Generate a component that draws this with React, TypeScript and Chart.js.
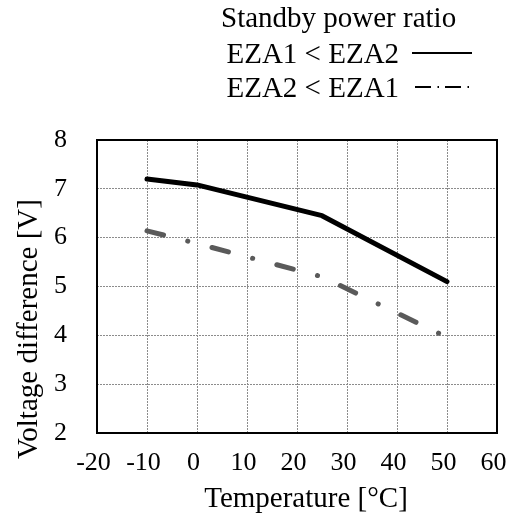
import React, { useEffect, useRef } from "react";
import { Chart, registerables } from "chart.js";

Chart.register(...registerables);

// ---- data ----
const temperatures = [-10, 0, 25, 50];
const eza1LessEza2 = [7.2, 7.08, 6.45, 5.1];
const eza2LessEza1 = [6.14, 5.88, 5.2, 3.96];
const seriesLabels = ["EZA1 < EZA2", "EZA2 < EZA1"];
const legendTitle = "Standby power ratio";
const xTitle = "Temperature [°C]";
const yTitle = "Voltage difference [V]";
const xRange = [-20, 60];
const yRange = [2, 8];

const FONT = '"Liberation Serif", "Times New Roman", serif';

const decorPlugin = {
  id: "decor",
  afterDatasetsDraw(chart: any) {
    const { ctx, chartArea: a } = chart;
    ctx.save();
    // plot frame
    ctx.setLineDash([]);
    ctx.strokeStyle = "#000";
    ctx.lineWidth = 2;
    ctx.strokeRect(a.left, a.top, a.right - a.left, a.bottom - a.top);

    // axis titles
    ctx.fillStyle = "#000";
    ctx.font = `29px ${FONT}`;
    ctx.textAlign = "center";
    ctx.textBaseline = "alphabetic";
    ctx.fillText(xTitle, (a.left + a.right) / 2 + 9, 507);
    ctx.save();
    ctx.translate(37, (a.top + a.bottom) / 2 + 42.5);
    ctx.rotate(-Math.PI / 2);
    ctx.fillText(yTitle, 0, 0);
    ctx.restore();

    // legend
    ctx.textAlign = "left";
    ctx.fillText(legendTitle, 221, 26.5);
    ctx.fillText(seriesLabels[0], 226.5, 62.5);
    ctx.fillText(seriesLabels[1], 226.5, 96.5);
    ctx.lineWidth = 2;
    ctx.strokeStyle = "#000";
    ctx.lineCap = "butt";
    ctx.beginPath();
    ctx.moveTo(412, 53);
    ctx.lineTo(472, 53);
    ctx.stroke();
    ctx.setLineDash([16, 6.5, 1.5, 6]);
    ctx.beginPath();
    ctx.moveTo(415, 87);
    ctx.lineTo(469, 87);
    ctx.stroke();
    ctx.restore();
  },
};

export default function App() {
  const ref = useRef<HTMLCanvasElement | null>(null);

  useEffect(() => {
    document.body.style.margin = "0";
    const canvas = ref.current;
    if (!canvas) return;
    const gridCommon = {
      color: "#8c8c8c",
      lineWidth: 1,
      drawTicks: false,
    };
    const chart = new Chart(canvas, {
      type: "line",
      data: {
        datasets: [
          {
            label: seriesLabels[0],
            data: temperatures.map((t, i) => ({ x: t, y: eza1LessEza2[i] })),
            borderColor: "#000000",
            borderWidth: 5,
            borderCapStyle: "round",
            borderJoinStyle: "round",
            pointRadius: 0,
            tension: 0,
            fill: false,
          },
          {
            label: seriesLabels[1],
            data: temperatures.map((t, i) => ({ x: t, y: eza2LessEza1[i] })),
            borderColor: "#5a5a5a",
            borderWidth: 5,
            borderCapStyle: "round",
            borderJoinStyle: "round",
            borderDash: [17, 25, 0.1, 25],
            pointRadius: 0,
            tension: 0,
            fill: false,
          },
        ],
      },
      options: {
        animation: false,
        responsive: false,
        devicePixelRatio: 1,
        layout: { padding: { left: 0, right: 18, top: 140, bottom: 0 } },
        plugins: {
          legend: { display: false },
          title: { display: false },
          tooltip: { enabled: false },
        },
        scales: {
          x: {
            type: "linear",
            min: xRange[0],
            max: xRange[1],
            grid: gridCommon,
            border: { display: false, dash: [2, 1] },
            ticks: {
              stepSize: 10,
              autoSkip: false,
              maxRotation: 0,
              padding: 15,
              labelOffset: -3.5,
              color: "#000",
              font: { family: FONT, size: 26 },
            },
            afterFit: (s: any) => {
              s.height = 84;
              s.paddingLeft = 0;
              s.paddingRight = 0;
            },
          },
          y: {
            type: "linear",
            min: yRange[0],
            max: yRange[1],
            grid: gridCommon,
            border: { display: false, dash: [2, 1] },
            ticks: {
              stepSize: 1,
              padding: 30,
              color: "#000",
              font: { family: FONT, size: 26 },
            },
            afterFit: (s: any) => {
              s.width = 97;
              s.paddingTop = 0;
              s.paddingBottom = 0;
            },
          },
        },
      },
      plugins: [decorPlugin],
    } as any);
    return () => chart.destroy();
  }, []);

  return (
    <div style={{ width: 515, height: 517 }}>
      <canvas ref={ref} width={515} height={517} style={{ display: "block" }} />
    </div>
  );
}
